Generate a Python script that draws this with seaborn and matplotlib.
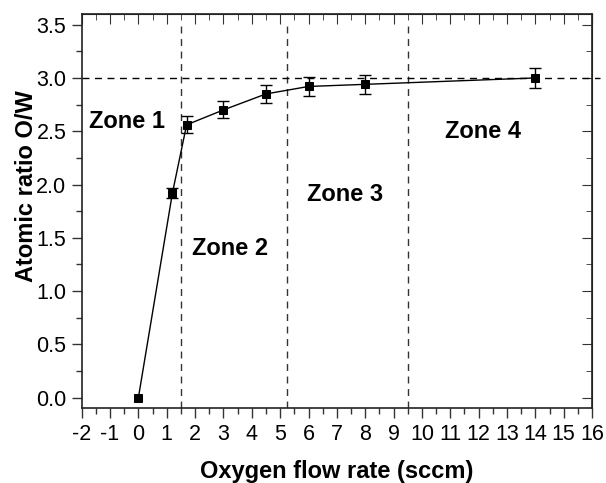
import numpy as np
import pandas as pd
import matplotlib
matplotlib.use('Agg')
import matplotlib.pyplot as plt
from matplotlib.ticker import MultipleLocator
import seaborn as sns

# Dados
flow_rate = [0, 1.2, 1.7, 3, 4.5, 6, 8, 14]
ratio_ow = [0.0, 1.92, 2.56, 2.70, 2.85, 2.92, 2.94, 3.00]
ratio_err = [0.0, 0.05, 0.08, 0.08, 0.085, 0.085, 0.09, 0.09]
zone_limits = [1.5, 5.25, 9.5]
zone_labels = ['Zone 1', 'Zone 2', 'Zone 3', 'Zone 4']
zone_text_x = [-1.75, 1.9, 5.95, 10.8]
zone_text_y = [2.59, 1.40, 1.91, 2.50]
x_ticks = list(range(-2, 17))
y_ticks = [0.0, 0.5, 1.0, 1.5, 2.0, 2.5, 3.0, 3.5]

df = pd.DataFrame({'flow': flow_rate, 'ratio': ratio_ow, 'err': ratio_err})

sns.set_style('ticks')
plt.rcParams['font.family'] = ['Liberation Sans', 'DejaVu Sans']
plt.rcParams['text.color'] = 'black'
plt.rcParams['axes.labelcolor'] = 'black'
plt.rcParams['xtick.labelcolor'] = 'black'
plt.rcParams['ytick.labelcolor'] = 'black'

fig = plt.figure(figsize=(6.06, 4.83), dpi=100)
ax = fig.add_axes([0.1348, 0.1547, 0.977 - 0.1348, 0.971 - 0.1547])

# Linhas tracejadas das zonas e do valor estequiométrico
ax.vlines(zone_limits, -0.1, 3.5, colors='#333333', linestyles=(0, (5, 4)), linewidth=1.0)
ax.plot([-2, 16.28], [3.0, 3.0], color='black', linestyle=(0, (5, 4)), linewidth=1.0, clip_on=False)

# Curva com barras de erro
sns.lineplot(data=df, x='flow', y='ratio', color='black', linewidth=1.0, marker='s',
             markersize=6, markeredgecolor='black', ax=ax)
ax.errorbar(df['flow'][1:], df['ratio'][1:], yerr=df['err'][1:], fmt='none',
            ecolor='black', elinewidth=1.0, capsize=4, capthick=1.0)

for label, tx, ty in zip(zone_labels, zone_text_x, zone_text_y):
    ax.text(tx, ty, label, fontsize=17, fontweight='bold', ha='left', va='center', color='black')

ax.set_xlim(-2, 16)
ax.set_ylim(-0.1, 3.6)
ax.set_xticks(x_ticks)
ax.set_xticklabels([str(t) for t in x_ticks])
ax.set_yticks(y_ticks)
ax.set_yticklabels([f'{t:.1f}' for t in y_ticks])
ax.xaxis.set_minor_locator(MultipleLocator(0.5))
ax.yaxis.set_minor_locator(MultipleLocator(0.25))

ax.tick_params(axis='both', which='major', labelsize=15.5, length=7, width=1.0, color='#333333')
ax.tick_params(axis='both', which='minor', length=4, width=1.0, color='#333333')
ax.tick_params(axis='x', which='both', direction='out', pad=4)
ax.tick_params(axis='y', which='both', direction='out', pad=4)
for side in ['top', 'right', 'bottom', 'left']:
    ax.spines[side].set_linewidth(1.2)
    ax.spines[side].set_color('#222222')

# Ticks espelhados para dentro no topo e à direita
sec_x = ax.secondary_xaxis('top')
sec_x.set_xticks(x_ticks)
sec_x.xaxis.set_minor_locator(MultipleLocator(0.5))
sec_x.tick_params(which='both', direction='in', labeltop=False, color='#333333')
sec_x.tick_params(which='major', length=7)
sec_x.tick_params(which='minor', length=4)
sec_y = ax.secondary_yaxis('right')
sec_y.set_yticks(y_ticks)
sec_y.yaxis.set_minor_locator(MultipleLocator(0.25))
sec_y.tick_params(which='both', direction='in', labelright=False, color='#333333')
sec_y.tick_params(which='major', length=7)
sec_y.tick_params(which='minor', length=4)
ax.tick_params(top=False, right=False, which='both')

ax.set_xlabel('Oxygen flow rate (sccm)', fontsize=17, fontweight='bold', labelpad=11)
ax.set_ylabel('Atomic ratio O/W', fontsize=17, fontweight='bold')
ax.yaxis.set_label_coords(-0.085, 0.5625)

plt.savefig('out.png', dpi=100)
plt.close()
